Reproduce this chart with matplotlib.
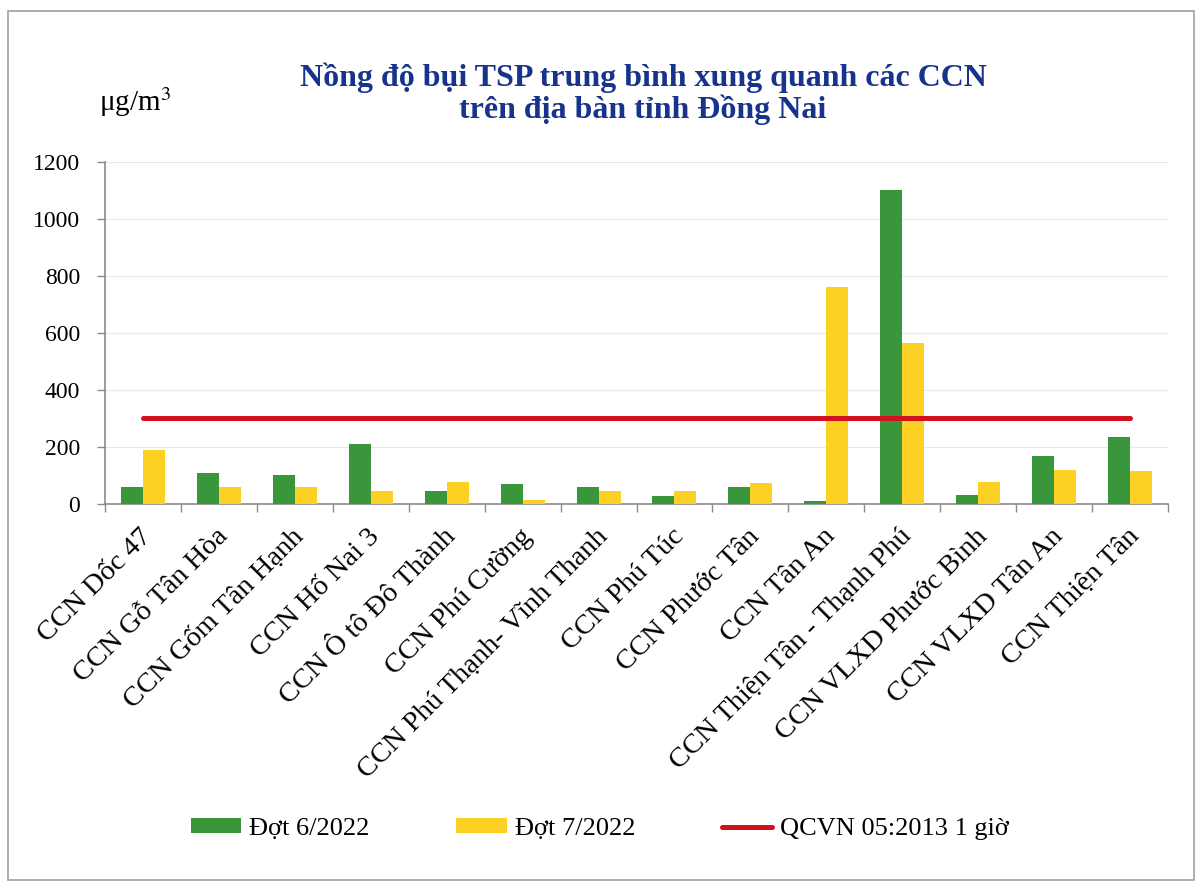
import numpy as np
import matplotlib
matplotlib.use('Agg')
import matplotlib.pyplot as plt
from matplotlib.patches import Rectangle

## Data (ug/m3)
categories = [
    "CCN Dốc 47", "CCN Gỗ Tân Hòa", "CCN Gốm Tân Hạnh", "CCN Hố Nai 3",
    "CCN Ô tô Đô Thành", "CCN Phú Cường", "CCN Phú Thạnh- Vĩnh Thanh",
    "CCN Phú Túc", "CCN Phước Tân", "CCN Tân An", "CCN Thiện Tân - Thạnh Phú",
    "CCN VLXD Phước Bình", "CCN VLXD Tân An", "CCN Thiện Tân",
]
dot6 = [58, 108, 102, 211, 46, 70, 61, 28, 58, 9, 1100, 30, 170, 235]
dot7 = [190, 58, 58, 46, 78, 15, 46, 46, 72, 762, 565, 77, 120, 117]
qcvn = [300] * len(categories)

series_names = ["Đợt 6/2022", "Đợt 7/2022", "QCVN 05:2013 1 giờ"]
yticks = [0, 200, 400, 600, 800, 1000, 1200]

GREEN = '#3A963A'
YELLOW = '#FDD124'
RED = '#D2111E'
TITLE_BLUE = '#17338C'

plt.rcParams['font.family'] = ['Liberation Serif', 'DejaVu Serif']

#____________________________________________________________________________________________________
def main():
    fig = plt.figure(figsize=(12.02, 8.88), dpi=100)
    ax = fig.add_axes([105/1202, 1 - 504/888, (1168 - 105)/1202, (504 - 162)/888])

    x = np.arange(len(categories))
    w = 0.29

    ## Bars + limit line
    b6 = ax.bar(x - w/2, dot6, width=w, color=GREEN, label=series_names[0], zorder=3)
    b7 = ax.bar(x + w/2, dot7, width=w, color=YELLOW, label=series_names[1], zorder=3)
    ln, = ax.plot(x, qcvn, color=RED, linewidth=3.6, solid_capstyle='round',
                  label=series_names[2], zorder=4)

    ## Axes
    ax.set_xlim(-0.5, len(categories) - 0.5)
    ax.set_ylim(0, 1200)
    ax.set_yticks(yticks)
    ax.set_yticklabels([str(v) for v in yticks], fontsize=17)
    ax.yaxis.grid(True, color='#E8E8E8', linewidth=0.9, zorder=0)
    ax.set_axisbelow(True)

    ax.set_xticks(np.arange(len(categories) + 1) - 0.5)
    ax.set_xticklabels([])
    ax.tick_params(axis='x', which='major', length=6, color='#8A8A8A', width=1)
    ax.tick_params(axis='y', which='major', length=6, color='#8A8A8A', width=1, pad=12)
    for i, lab in enumerate(categories):
        ax.text(i + 0.07, -0.084, lab, transform=ax.get_xaxis_transform(),
                rotation=45, rotation_mode='anchor', ha='right', va='center', fontsize=20.5)

    for s in ['top', 'right']: ax.spines[s].set_visible(False)
    for s in ['left', 'bottom']:
        ax.spines[s].set_color('#8A8A8A')
        ax.spines[s].set_linewidth(1.2)

    ## Title and unit
    fig.text(643/1202, 1 - 94/888, "Nồng độ bụi TSP trung bình xung quanh các CCN\ntrên địa bàn tỉnh Đồng Nai",
             ha='center', va='center', fontsize=23, fontweight='bold', color=TITLE_BLUE, linespacing=1.05)
    fig.text(99/1202, 1 - 102/888, r"μg/m$^3$", ha='left', va='center', fontsize=21,
             math_fontfamily='stix')

    ## Legend
    fig.legend([b6, b7, ln], series_names, loc='center', bbox_to_anchor=(600/1202, 1 - 829/888),
               ncol=3, frameon=False, fontsize=19, handlelength=1.9, handleheight=0.5,
               handletextpad=0.3, columnspacing=3.3)

    ## Frame around the chart
    fig.patches.append(Rectangle((8/1202, 1 - 880/888), 1186/1202, 869/888, transform=fig.transFigure,
                                 fill=False, edgecolor='#A0A0A0', linewidth=1.2))

    fig.savefig('out.png', dpi=100)
    plt.close(fig)

#____________________________________________________________________________________________________
if __name__ == "__main__": main()
